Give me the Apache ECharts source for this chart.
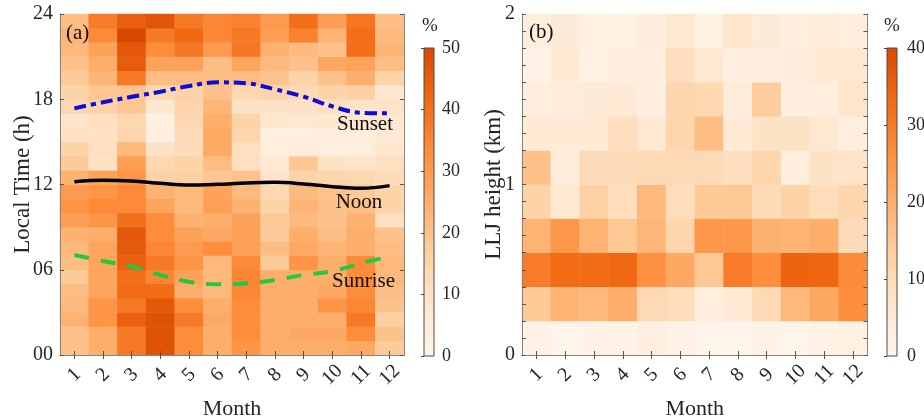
<!DOCTYPE html>
<html><head><meta charset="utf-8">
<script src="https://cdn.jsdelivr.net/npm/echarts@6/dist/echarts.min.js"></script>
<style>html,body{margin:0;padding:0;background:#fff}#c{width:924px;height:418px}</style>
</head><body><div id="c"></div>
<script>
const months = ['1','2','3','4','5','6','7','8','9','10','11','12'];
const hourBins = Array.from({length: 24}, (_, i) => String(i));
const heightBins = ['0.0','0.2','0.4','0.6','0.8','1.0','1.2','1.4','1.6','1.8'];
const hourTickLabels = ['00','06','12','18','24'];
const heightTickLabels = ['0','1','2'];

// LLJ occurrence frequency (%) by local hour (row 0 = 00-01 h) and month
const timeFreq = [
  [20, 25, 38, 47.5, 33.5, 25, 31.5, 25, 25, 25, 26.5, 18],
  [20, 25, 38, 47.5, 33.5, 25, 33.5, 25, 26.5, 26.5, 33.5, 20],
  [24, 31.5, 44, 47.5, 38, 26.5, 33.5, 25, 25, 25, 38, 16.5],
  [22, 31.5, 38, 46, 33.5, 25, 33.5, 25, 25, 31.5, 35, 20],
  [21.5, 27.5, 41, 41, 25, 22.5, 35, 25, 25, 26.5, 33.5, 21],
  [18, 27.5, 40, 35, 28, 22.5, 35, 25, 25, 25, 33.5, 22.5],
  [21.5, 27.5, 44, 38, 31.5, 22.5, 34, 18, 31.5, 25, 34, 22.5],
  [22.5, 27.5, 45.5, 35, 30, 33.5, 28.5, 21.5, 26.5, 23.5, 25, 21.5],
  [24, 25, 46, 33.5, 28, 26.5, 28.5, 18, 25, 21, 25, 20],
  [29, 31.5, 40, 33.5, 24, 25, 28, 18, 22, 20, 24, 11],
  [31.5, 34, 34, 27.5, 22, 28.5, 24, 15.5, 23.5, 20, 21, 15.5],
  [30, 31.5, 34, 24, 22.5, 28, 22, 14, 22, 20, 18, 15.5],
  [24, 28, 31, 16, 16.5, 19, 20, 9, 16, 15, 14, 12],
  [18, 10, 29, 14, 15.5, 21.5, 11, 7, 19, 10, 9, 11],
  [15.5, 11, 22.5, 10, 12, 26, 11, 4, 4.5, 4, 4, 8],
  [10, 10, 15, 3, 12, 26, 15, 3, 3, 4, 4, 6.5],
  [9, 11, 14, 3, 14, 25, 15.5, 8, 7, 8, 7.5, 7.5],
  [14, 16, 19, 8, 15, 23, 10, 10, 10, 11, 9.5, 9.5],
  [15.5, 19, 19.5, 14, 16, 20, 14, 15, 13.5, 15.5, 16.5, 8],
  [18, 23.5, 38, 21, 21.5, 21, 21.5, 19.5, 15.5, 20, 25, 15.5],
  [20, 25, 45, 28, 28, 21, 27.5, 22, 20, 27, 28, 21],
  [22.5, 28, 46, 33.5, 38.5, 30, 38.5, 24, 22, 20, 40.5, 23.5],
  [23.5, 34, 50, 38, 42, 35, 38, 29, 36, 23.5, 40.5, 22],
  [21, 37.5, 44, 47, 38, 35, 36, 30, 40, 29.5, 39, 21]
];

// LLJ height frequency (%) by 0.2 km bin (row 0 = 0-0.2 km) and month
const lljFreq = [
  [1, 0.5, 1, 1, 2.5, 1, 0.5, 0.5, 1, 0.5, 1, 2],
  [14.5, 19, 18, 20, 10.5, 9.5, 3, 5, 10.5, 18, 21, 26.5],
  [30, 33, 33, 33.5, 26, 21, 15, 30, 26.5, 34.5, 34, 27],
  [19, 24.5, 19, 15, 18.5, 11.5, 24.5, 24.5, 19.5, 19, 20, 10],
  [12.5, 6, 13, 9.5, 18, 9.5, 14.5, 15, 10, 12.5, 9.5, 11.5],
  [16.5, 4, 10, 10, 10.5, 10.5, 10.5, 9, 11.5, 3, 8, 7.5],
  [5, 5, 5, 9, 6, 11.5, 17, 5, 8, 8, 6, 3],
  [3, 4, 4.5, 5, 2.5, 11.5, 11, 4, 14, 2.5, 3, 7],
  [1, 5, 1.5, 2.5, 3, 9, 6, 2.5, 2.5, 3.5, 5, 6],
  [3, 4.5, 2, 1.5, 3.5, 6, 2, 7, 4.5, 3, 4, 3]
];

const sunrise = [7.04, 6.62, 6.22, 5.63, 5.16, 4.98, 5.05, 5.28, 5.63, 5.9, 6.46, 6.92];
const noon    = [12.2, 12.3, 12.25, 12.08, 11.96, 12.01, 12.11, 12.15, 12.04, 11.85, 11.73, 11.92];
const sunset  = [17.36, 17.79, 18.17, 18.53, 18.93, 19.19, 19.12, 18.7, 18.18, 17.5, 17.05, 17.01];

const timeMax = 50, heightMax = 40;
const palette = ['#fff5eb','#fee6ce','#fdd0a2','#fdae6b','#fd8d3c','#f16913','#d94801'];

const FONT = 'Liberation Serif';
const TXT = '#262626';
const BORDER = '#858585';

function toHeat(grid) {
  const out = [];
  grid.forEach((row, r) => row.forEach((v, c) => out.push([c, r, v])));
  return out;
}

function catX(gridIndex, pos, showLabel, name) {
  return {
    type: 'category', gridIndex, position: pos, data: months, z: 10,
    boundaryGap: true,
    axisLine: {show: true, lineStyle: {color: BORDER, width: 1}},
    axisTick: {show: true, inside: true, alignWithLabel: true, interval: 0, length: 4, lineStyle: {color: '#555'}},
    axisLabel: {show: showLabel, interval: 0, rotate: 45, margin: 20, align: 'center', verticalAlign: 'middle',
                fontFamily: FONT, fontSize: 20, color: TXT},
    splitLine: {show: false},
    name: name || '', nameLocation: 'middle', nameGap: 43,
    nameTextStyle: {fontFamily: FONT, fontSize: 22, color: TXT}
  };
}

function valY(gridIndex, pos, min, max, interval, showLabel, formatter, name, nameGap) {
  return {
    type: 'value', gridIndex, position: pos, min, max, interval, z: 10,
    axisLine: {show: true, lineStyle: {color: BORDER, width: 1}},
    axisTick: {show: true, inside: true, length: 4, lineStyle: {color: '#555'}},
    axisLabel: {show: showLabel, margin: 7, fontFamily: FONT, fontSize: 20, color: TXT, formatter},
    splitLine: {show: false},
    name: name || '', nameLocation: 'middle', nameGap: nameGap || 0, nameMoveOverlap: false,
    nameTextStyle: {fontFamily: FONT, fontSize: 23, color: TXT}
  };
}

function cbRender(params, api) {
  const p0 = api.coord([0, api.value(0)]);
  const p1 = api.coord([1, api.value(1)]);
  return {
    type: 'rect',
    shape: {x: p0[0], y: p1[1], width: p1[0] - p0[0], height: p0[1] - p1[1]},
    style: {
      fill: new echarts.graphic.LinearGradient(0, 1, 0, 0,
        palette.map((c, i) => ({offset: i / (palette.length - 1), color: c}))),
      stroke: '#4a4a4a', lineWidth: 1
    }
  };
}

const chart = echarts.init(document.getElementById('c'), null, {renderer: 'canvas'});
chart.setOption({
  animation: false,
  backgroundColor: '#fff',
  grid: [
    {left: 60, top: 14, width: 344, height: 341, outerBoundsMode: 'none', containLabel: false},
    {left: 522, top: 14, width: 345.5, height: 341, outerBoundsMode: 'none', containLabel: false},
    {left: 424, top: 48, width: 10, height: 308, outerBoundsMode: 'none', containLabel: false},
    {left: 887, top: 48, width: 10, height: 308, outerBoundsMode: 'none', containLabel: false}
  ],
  xAxis: [
    catX(0, 'bottom', true, 'Month'),
    catX(0, 'top', false),
    catX(1, 'bottom', true, 'Month'),
    catX(1, 'top', false),
    {type: 'value', gridIndex: 2, min: 0, max: 1, show: false},
    {type: 'value', gridIndex: 3, min: 0, max: 1, show: false}
  ],
  yAxis: [
    {type: 'category', gridIndex: 0, data: hourBins, show: false},
    valY(0, 'left', 0, 24, 6, true, v => hourTickLabels[Math.round(v / 6)] || '', 'Local Time (h)', 26),
    valY(0, 'right', 0, 24, 6, false),
    {type: 'category', gridIndex: 1, data: heightBins, show: false},
    valY(1, 'left', 0, 2, 0.1, true, v => {
      const r = Math.round(v);
      return Math.abs(v - r) < 1e-6 ? heightTickLabels[r] : '';
    }, 'LLJ height (km)', 17),
    valY(1, 'right', 0, 2, 0.1, false),
    {type: 'value', gridIndex: 2, position: 'right', min: 0, max: timeMax, interval: 10, z: 10,
     axisLine: {show: false}, splitLine: {show: false},
     axisTick: {show: true, inside: true, length: 3, lineStyle: {color: '#444'}},
     axisLabel: {margin: 8, fontFamily: FONT, fontSize: 18, color: TXT}},
    {type: 'value', gridIndex: 3, position: 'right', min: 0, max: heightMax, interval: 10, z: 10,
     axisLine: {show: false}, splitLine: {show: false},
     axisTick: {show: true, inside: true, length: 3, lineStyle: {color: '#444'}},
     axisLabel: {margin: 10, fontFamily: FONT, fontSize: 18, color: TXT}}
  ],
  visualMap: [
    {show: false, type: 'continuous', seriesIndex: 0, dimension: 2, min: 0, max: timeMax, inRange: {color: palette}},
    {show: false, type: 'continuous', seriesIndex: 1, dimension: 2, min: 0, max: heightMax, inRange: {color: palette}}
  ],
  series: [
    {type: 'heatmap', xAxisIndex: 0, yAxisIndex: 0, data: toHeat(timeFreq), emphasis: {disabled: true}},
    {type: 'heatmap', xAxisIndex: 2, yAxisIndex: 3, data: toHeat(lljFreq), emphasis: {disabled: true}},
    {type: 'line', xAxisIndex: 0, yAxisIndex: 1, data: sunset, symbol: 'none', smooth: 0.4, z: 5,
     lineStyle: {color: '#0c0cd8', width: 4, type: [12, 5, 5, 5]}},
    {type: 'line', xAxisIndex: 0, yAxisIndex: 1, data: noon, symbol: 'none', smooth: 0.4, z: 5,
     lineStyle: {color: '#000', width: 3.5, type: 'solid'}},
    {type: 'line', xAxisIndex: 0, yAxisIndex: 1, data: sunrise, symbol: 'none', smooth: 0.4, z: 5,
     lineStyle: {color: '#22c93f', width: 4, type: [15, 12]}},
    {type: 'custom', xAxisIndex: 4, yAxisIndex: 6, data: [[0, timeMax]], renderItem: cbRender},
    {type: 'custom', xAxisIndex: 5, yAxisIndex: 7, data: [[0, heightMax]], renderItem: cbRender}
  ],
  graphic: [
    {type: 'text', x: 66, y: 33, z: 100, style: {text: '(a)', font: '21px "Liberation Serif"', fill: '#111', verticalAlign: 'middle'}},
    {type: 'text', x: 529, y: 32, z: 100, style: {text: '(b)', font: '21px "Liberation Serif"', fill: '#111', verticalAlign: 'middle'}},
    {type: 'text', x: 430, y: 26, z: 100, style: {text: '%', font: '19px "Liberation Serif"', fill: TXT, align: 'center', verticalAlign: 'middle'}},
    {type: 'text', x: 892, y: 26, z: 100, style: {text: '%', font: '19px "Liberation Serif"', fill: TXT, align: 'center', verticalAlign: 'middle'}},
    {type: 'text', x: 365, y: 124, z: 100, style: {text: 'Sunset', font: '21px "Liberation Serif"', fill: '#111', align: 'center', verticalAlign: 'middle'}},
    {type: 'text', x: 359, y: 202, z: 100, style: {text: 'Noon', font: '21px "Liberation Serif"', fill: '#111', align: 'center', verticalAlign: 'middle'}},
    {type: 'text', x: 363.5, y: 281, z: 100, style: {text: 'Sunrise', font: '21px "Liberation Serif"', fill: '#111', align: 'center', verticalAlign: 'middle'}}
  ]
});
</script>
</body></html>
